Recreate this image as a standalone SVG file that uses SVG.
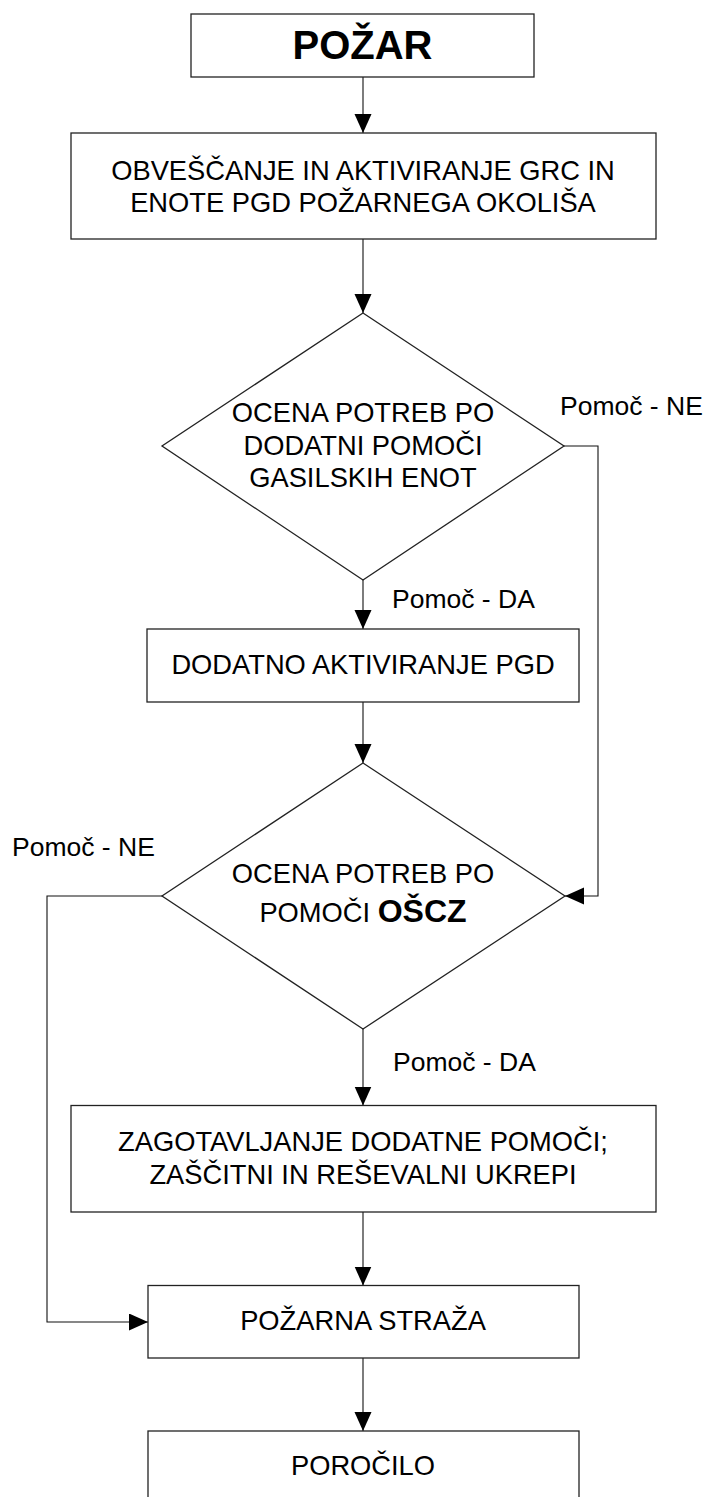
<svg xmlns="http://www.w3.org/2000/svg" width="708" height="1497" viewBox="0 0 708 1497">
<style>
.box{fill:#fff;stroke:#222;stroke-width:1.3}
.t{font-family:"Liberation Sans",Arial,sans-serif;font-size:27.3px;fill:#000;text-anchor:middle}
.lbl{font-family:"Liberation Sans",Arial,sans-serif;font-size:26.5px;fill:#000}
.b{font-weight:bold}
.c{fill:none;stroke:#111;stroke-width:1.1}
</style>
<defs>
<marker id="ah" markerUnits="userSpaceOnUse" markerWidth="20" markerHeight="18" refX="19" refY="8.5" orient="auto">
<path d="M0,0 L19,8.5 L0,17 Z" fill="#000"/>
</marker>
</defs>
<rect x="0" y="0" width="708" height="1497" fill="#fff"/>
<g id="connectors">
<line class="c" x1="363" y1="77" x2="363" y2="133" marker-end="url(#ah)"/>
<line class="c" x1="363" y1="239" x2="363" y2="313" marker-end="url(#ah)"/>
<line class="c" x1="363" y1="580" x2="363" y2="629" marker-end="url(#ah)"/>
<line class="c" x1="363" y1="702" x2="363" y2="763" marker-end="url(#ah)"/>
<polyline class="c" points="564,446 598,446 598,896 565,896" marker-end="url(#ah)"/>
<polyline class="c" points="162,896 47,896 47,1322 148,1322" marker-end="url(#ah)"/>
<line class="c" x1="363" y1="1029" x2="363" y2="1105.5" marker-end="url(#ah)"/>
<line class="c" x1="363" y1="1212" x2="363" y2="1285.5" marker-end="url(#ah)"/>
<line class="c" x1="363" y1="1358" x2="363" y2="1431" marker-end="url(#ah)"/>
<text class="lbl" x="392" y="608">Pomoč - DA</text>
<text class="lbl" x="560" y="415">Pomoč - NE</text>
<text class="lbl" x="12" y="856">Pomoč - NE</text>
<text class="lbl" x="393" y="1071">Pomoč - DA</text>
</g>
<g id="pozar">
<rect class="box" x="191" y="14" width="343" height="63"/>
<text class="t b" x="362.5" y="59" style="font-size:40px">POŽAR</text>
</g>
<g id="obvescanje">
<rect class="box" x="71" y="133" width="585" height="106"/>
<text class="t" x="363" y="180">OBVEŠČANJE IN AKTIVIRANJE GRC IN</text>
<text class="t" x="363" y="212">ENOTE PGD POŽARNEGA OKOLIŠA</text>
</g>
<g id="ocena1">
<polygon class="box" points="363,313 564,446 363,580 162,446"/>
<text class="t" x="363" y="422">OCENA POTREB PO</text>
<text class="t" x="363" y="455">DODATNI POMOČI</text>
<text class="t" x="363" y="487">GASILSKIH ENOT</text>
</g>
<g id="dodatno">
<rect class="box" x="147" y="629" width="432" height="73"/>
<text class="t" x="363" y="674">DODATNO AKTIVIRANJE PGD</text>
</g>
<g id="ocena2">
<polygon class="box" points="363,763 565,896 363,1029 162,896"/>
<text class="t" x="363" y="883">OCENA POTREB PO</text>
<text class="t" x="363" y="922">POMOČI <tspan class="b" style="font-size:32px">OŠCZ</tspan></text>
</g>
<g id="zagotavljanje">
<rect class="box" x="71" y="1105.5" width="585" height="106.5"/>
<text class="t" x="363" y="1151">ZAGOTAVLJANJE DODATNE POMOČI;</text>
<text class="t" x="363" y="1184">ZAŠČITNI IN REŠEVALNI UKREPI</text>
</g>
<g id="straza">
<rect class="box" x="148" y="1285.5" width="431" height="72.5"/>
<text class="t" x="363" y="1330">POŽARNA STRAŽA</text>
</g>
<g id="porocilo">
<rect class="box" x="148" y="1431" width="431" height="80"/>
<text class="t" x="363" y="1475">POROČILO</text>
</g>
</svg>
